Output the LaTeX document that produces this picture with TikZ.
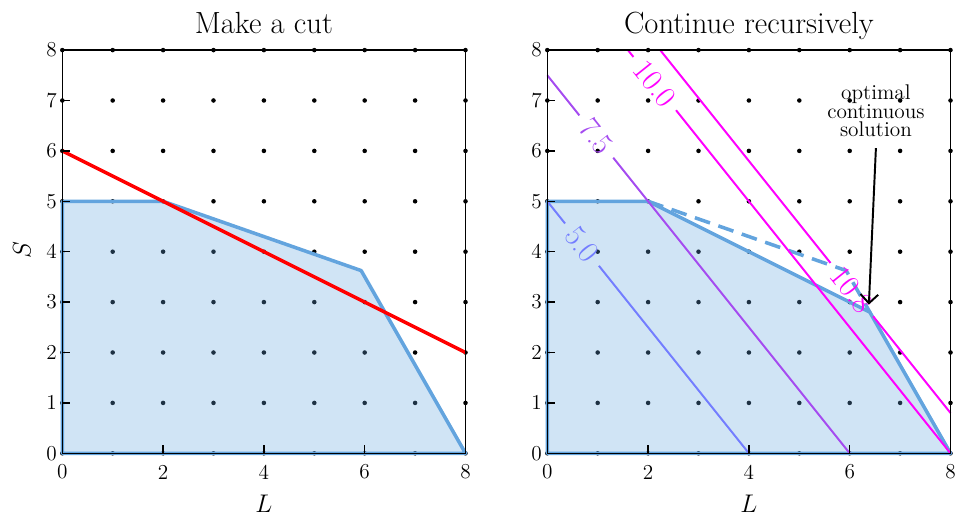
\documentclass[tikz,border=0pt]{standalone}
\usepackage{tikz}
\usetikzlibrary{arrows.meta,positioning}

\definecolor{regblue}{RGB}{99,164,222}
\definecolor{lvlfive}{RGB}{115,125,255}
\definecolor{lvlseven}{RGB}{165,75,240}
\definecolor{lvlten}{RGB}{255,0,255}

\begin{document}
\begin{tikzpicture}[
    region/.style={
      fill=regblue,
      fill opacity=0.3,
      draw=none
    },
    boundary/.style={
      draw=regblue,
      line width=2pt,
      line join=round
    },
    cutline/.style={
      draw=red,
      line width=2pt
    },
    frame/.style={
      draw=black,
      line width=0.8pt
    },
    level/.style={
      line width=1.1pt
    },
    lvllabel/.style={
      sloped,
      font=\LARGE,
      inner ysep=0pt,
      inner xsep=5pt
    },
    ticklabel/.style={
      font=\large,
      inner sep=0pt
    },
    title/.style={
      font=\LARGE,
      anchor=base
    },
    axlabel/.style={
      font=\Large
    },
    >={Straight Barb[length=5pt]}
  ]

    \useasboundingbox (-1.236,-1.185) rectangle (17.752,8.994);

    % --- Left panel: make a cut
    \begin{scope}
      \foreach \x in {0,...,8}
        \foreach \y in {0,...,8}
          \fill (\x,\y) circle (0.045);

      \fill[region] (0,0) -- (0,5) -- (2,5) -- (5.93,3.625) -- (8,0) -- cycle;
      \draw[boundary] (0,0) -- (0,5) -- (2,5) -- (5.93,3.625) -- (8,0) -- cycle;
      \draw[cutline] (0,6) -- (8,2);

      \draw[frame] (0,0) rectangle (8,8);
      \foreach \y in {0,...,8} {
        \draw[frame] (0,\y) -- ++(0.16,0);
        \node[ticklabel, anchor=east] at (-0.1,\y) {\y};
      }
      \foreach \x in {0,2,...,8} {
        \draw[frame] (\x,0) -- ++(0,0.16);
        \node[ticklabel] at (\x,-0.37) {\x};
      }

      \node[title] (cuttitle) at (4,8.33) {Make a cut};
      \node[axlabel] (cutxlab) at (4,-1.0) {$L$};
      \node[axlabel, rotate=90] (cutylab) at (-0.8,4.03) {$S$};
    \end{scope}

    % --- Right panel: continue recursively
    \begin{scope}[xshift=9.623cm]
      \foreach \x in {0,...,8}
        \foreach \y in {0,...,8}
          \fill (\x,\y) circle (0.045);

      \fill[region] (0,0) -- (0,5) -- (2,5) -- (6.4,2.8) -- (8,0) -- cycle;
      \draw[boundary] (0,0) -- (0,5) -- (2,5) -- (6.4,2.8) -- (8,0) -- cycle;
      \draw[boundary, dash pattern=on 9pt off 5pt] (2,5) -- (5.93,3.625) -- (6.4,2.8);

      % --- Level lines of the objective
      \coordinate (fivea) at (0,5);
      \coordinate (fiveb) at (4,0);
      \coordinate (sevena) at (0,7.5);
      \coordinate (sevenb) at (6,0);
      \coordinate (tena) at (1.6,8);
      \coordinate (tenb) at (8,0);
      \coordinate (opta) at (2.24,8);
      \coordinate (optb) at (8,0.8);

      \path (fivea) -- node[lvllabel, pos=0.172, text=lvlfive] (fivelab) {5.0} (fiveb);
      \draw[level, lvlfive] (fivea) -- (fivelab.west);
      \draw[level, lvlfive] (fivelab.east) -- (fiveb);

      \path (sevena) -- node[lvllabel, pos=0.162, text=lvlseven] (sevenlab) {7.5} (sevenb);
      \draw[level, lvlseven] (sevena) -- (sevenlab.west);
      \draw[level, lvlseven] (sevenlab.east) -- (sevenb);

      \path (tena) -- node[lvllabel, pos=0.083, text=lvlten] (tenlab) {10.0} (tenb);
      \draw[level, lvlten] (tena) -- (tenlab.west);
      \draw[level, lvlten] (tenlab.east) -- (tenb);

      \path (opta) -- node[lvllabel, pos=0.66, text=lvlten] (optlab) {10.8} (optb);
      \draw[level, lvlten] (opta) -- (optlab.west);
      \draw[level, lvlten] (optlab.east) -- (optb);

      \draw[frame] (0,0) rectangle (8,8);
      \foreach \y in {0,...,8} {
        \draw[frame] (0,\y) -- ++(0.16,0);
        \node[ticklabel, anchor=east] at (-0.1,\y) {\y};
      }
      \foreach \x in {0,2,...,8} {
        \draw[frame] (\x,0) -- ++(0,0.16);
        \node[ticklabel] at (\x,-0.37) {\x};
      }

      % --- Annotation
      \node[font={\fontsize{12}{10}\selectfont}, align=center] (optnote) at (6.52,6.8)
        {optimal\\continuous\\solution};
      \coordinate (optpt) at (6.38,2.95);
      \draw[->, line width=1.1pt] (optnote.south) ++(0,-0.1) -- (optpt);

      \node[title] (rectitle) at (4,8.33) {Continue recursively};
      \node[axlabel] (recxlab) at (4,-1.0) {$L$};
    \end{scope}

  \end{tikzpicture}
\end{document}
